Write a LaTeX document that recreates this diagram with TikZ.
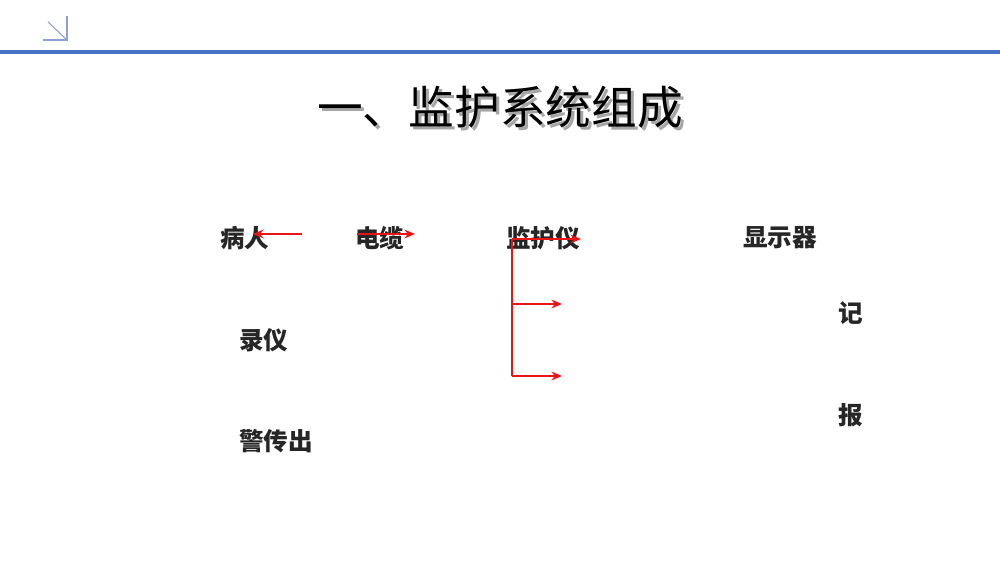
\documentclass[tikz,border=0pt]{standalone}
\usepackage{fontspec}
\newfontfamily\cjk{Noto Sans CJK SC}
\usetikzlibrary{arrows.meta,positioning}

\definecolor{barblue}{RGB}{68,114,196}
\definecolor{iconblue}{RGB}{140,160,210}
\definecolor{linered}{RGB}{235,20,20}

\begin{document}
\begin{tikzpicture}[x=0.02cm,y=-0.02cm,
    lbl/.style={anchor=west,inner sep=0pt,font=\cjk\bfseries\fontsize{14}{16}\selectfont,text=black!85},
    titletxt/.style={inner sep=0pt,font=\cjk\fontsize{26}{30}\selectfont},
    redline/.style={draw=linered,line width=1.2pt},
    redarrow/.style={redline,-{Stealth[length=6pt,width=5pt]}}]

\useasboundingbox (0,0) rectangle (1000,563);

% header bar and corner icon
\fill[barblue] (0,50) rectangle (1000,54);
\draw[iconblue,line width=0.6pt] (43,40) -- (67,40) -- (67,16);
\draw[iconblue,line width=0.6pt] (48,22) -- (67,40);

% title with shadow
\node[titletxt,text=black!35] (titleshadow) at (503,110) {一、监护系统组成};
\node[titletxt,text=black] (title) at (500,107) {一、监护系统组成};

% labels
\foreach \name/\x/\y/\txt in {patient/220/238/病人,cable/355/238/电缆,monitor/506/238/监护仪,display/743/238/显示器,
                              rec/838/313/记,recorder/239/340/录仪,alarm/838/415/报,alarmout/239/441/警传出}
    \node[lbl] (\name) at (\x,\y) {\txt};

% arrows
\coordinate (pa) at (302,234);
\coordinate (pb) at (253,234);
\coordinate (ca) at (357,234);
\coordinate (cb) at (415,234);
\coordinate (ma) at (512,239);
\coordinate (mb) at (581,239);
\coordinate (mc) at (512,304);
\coordinate (md) at (562,304);
\coordinate (me) at (512,376);
\coordinate (mf) at (562,376);

\draw[redarrow] (pa) -- (pb);
\draw[redarrow] (ca) -- (cb);
\draw[redarrow] (ma) -- (mb);
\draw[redline] (ma) -- (me);
\draw[redarrow] (mc) -- (md);
\draw[redarrow] (me) -- (mf);
\end{tikzpicture}
\end{document}
